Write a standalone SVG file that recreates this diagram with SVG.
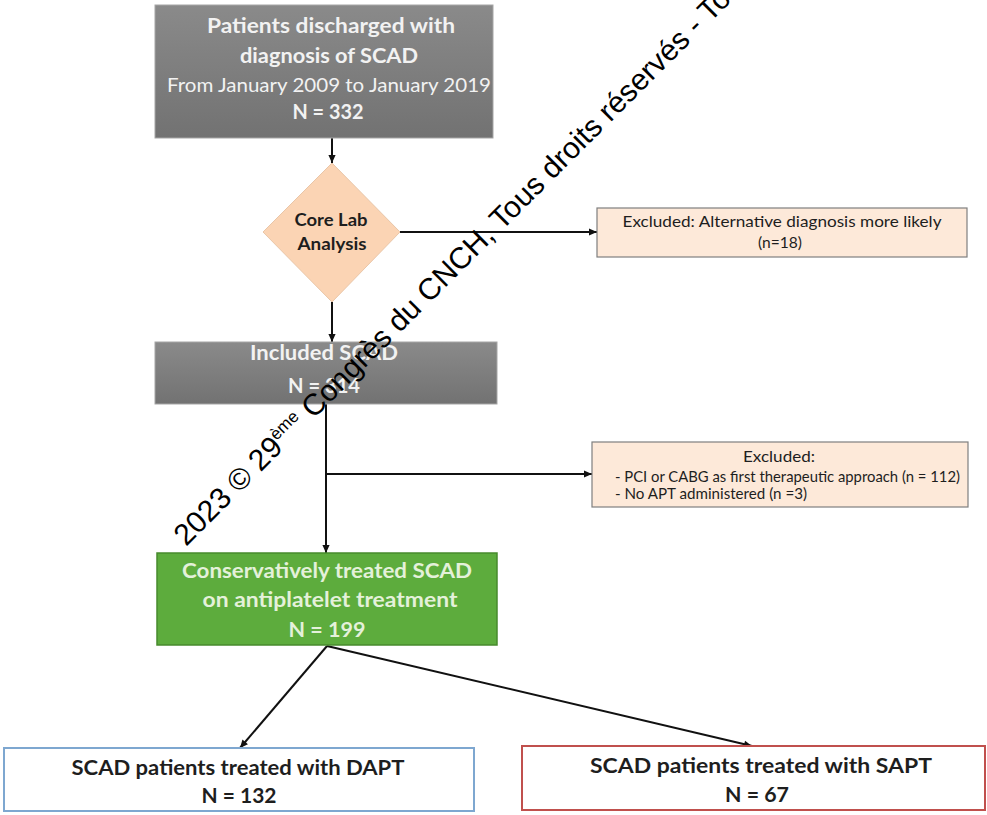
<svg xmlns="http://www.w3.org/2000/svg" width="987" height="815" viewBox="0 0 987 815">
<style>
.t{font-family:Lato,"Open Sans","Liberation Sans",sans-serif;text-anchor:middle}
.l{font-family:Lato,"Open Sans","Liberation Sans",sans-serif}
.b{font-weight:bold}
.w{fill:#f2f2f2}
.g{fill:#e4f1da}
.k{fill:#1e1e1e}
.gray{stroke:#a6a6a6;stroke-width:1}
.exc{fill:#fde9d9;stroke:#7f7f7f;stroke-width:1.2}
.con{fill:none;stroke:#111;stroke-width:2}
.wm{font-family:"Liberation Sans",Arial,sans-serif;font-size:30px;fill:#000}
</style>
<defs>
<linearGradient id="gg" x1="0" y1="0" x2="0" y2="1">
<stop offset="0" stop-color="#8a8a8a"/>
<stop offset="1" stop-color="#727272"/>
</linearGradient>
<marker id="ah" viewBox="0 0 10 10" refX="10" refY="5" markerWidth="9" markerHeight="8" markerUnits="userSpaceOnUse" orient="auto">
<path d="M0,0.5 L10,5 L0,9.5 z" fill="#111"/>
</marker>
</defs>
<rect width="987" height="815" fill="#ffffff"/>

<g id="connectors">
<path class="con" d="M332,138 L332,163" marker-end="url(#ah)"/>
<path class="con" d="M400,232 L597,232" marker-end="url(#ah)"/>
<path class="con" d="M332,302 L332,342" marker-end="url(#ah)"/>
<path class="con" d="M326,404 L326,553" marker-end="url(#ah)"/>
<path class="con" d="M326,474 L592,474" marker-end="url(#ah)"/>
<path class="con" d="M327,646 L240,748" stroke-width="1.6" marker-end="url(#ah)"/>
<path class="con" d="M327,646 L752,746" stroke-width="1.6" marker-end="url(#ah)"/>
</g>

<g id="node-discharged">
<rect class="gray" x="155" y="5" width="338" height="133" fill="url(#gg)"/>
<text class="t b w" x="331" y="33" font-size="21" textLength="248" lengthAdjust="spacingAndGlyphs">Patients discharged with</text>
<text class="t b w" x="329" y="63" font-size="21" textLength="178" lengthAdjust="spacingAndGlyphs">diagnosis of SCAD</text>
<text class="t w" x="329" y="92" font-size="20" textLength="324" lengthAdjust="spacingAndGlyphs">From January 2009 to January 2019</text>
<text class="t b w" x="328" y="119" font-size="21" textLength="71" lengthAdjust="spacingAndGlyphs">N = 332</text>
</g>

<g id="node-corelab">
<polygon points="332,163 400,232 332,302 263,232" fill="#fbd4b4" stroke="#e9c6a8" stroke-width="1"/>
<text class="t b k" x="331" y="226" font-size="16.5" textLength="73" lengthAdjust="spacingAndGlyphs">Core Lab</text>
<text class="t b k" x="332" y="250" font-size="16.5" textLength="69" lengthAdjust="spacingAndGlyphs">Analysis</text>
</g>

<g id="node-excluded1">
<rect class="exc" x="597" y="208" width="370" height="49"/>
<text class="t k" x="782" y="227" font-size="16" textLength="319" lengthAdjust="spacingAndGlyphs">Excluded: Alternative diagnosis more likely</text>
<text class="t k" x="780" y="248" font-size="16" textLength="44" lengthAdjust="spacingAndGlyphs">(n=18)</text>
</g>

<g id="node-included">
<rect class="gray" x="155" y="342" width="342" height="62" fill="url(#gg)"/>
<text class="t b w" x="324" y="360" font-size="21" textLength="148" lengthAdjust="spacingAndGlyphs">Included SCAD</text>
<text class="t b w" x="324" y="393" font-size="21" textLength="72" lengthAdjust="spacingAndGlyphs">N = 314</text>
</g>

<g id="node-excluded2">
<rect class="exc" x="592" y="442" width="376" height="65"/>
<text class="t k" x="779" y="462" font-size="16" textLength="72" lengthAdjust="spacingAndGlyphs">Excluded:</text>
<text class="l k" x="615" y="482" font-size="15" textLength="345" lengthAdjust="spacingAndGlyphs">- PCI or CABG as first therapeutic approach (n = 112)</text>
<text class="l k" x="615" y="499" font-size="15" textLength="192" lengthAdjust="spacingAndGlyphs">- No APT administered (n =3)</text>
</g>

<g id="node-conservative">
<rect x="157" y="553" width="340" height="92" fill="#5dac3d" stroke="#478a2c" stroke-width="1.5"/>
<text class="t b g" x="327" y="578" font-size="21" textLength="290" lengthAdjust="spacingAndGlyphs">Conservatively treated SCAD</text>
<text class="t b g" x="330" y="607" font-size="21" textLength="255" lengthAdjust="spacingAndGlyphs">on antiplatelet treatment</text>
<text class="t b g" x="327" y="637" font-size="21" textLength="77" lengthAdjust="spacingAndGlyphs">N = 199</text>
</g>

<g id="node-dapt">
<rect x="4" y="748" width="470" height="63" fill="#ffffff" stroke="#7ea7d0" stroke-width="2"/>
<text class="t b k" x="238" y="775" font-size="21" textLength="333" lengthAdjust="spacingAndGlyphs">SCAD patients treated with DAPT</text>
<text class="t b k" x="239" y="803" font-size="21" textLength="75" lengthAdjust="spacingAndGlyphs">N = 132</text>
</g>

<g id="node-sapt">
<rect x="522" y="746" width="463" height="64" fill="#ffffff" stroke="#c0504d" stroke-width="2"/>
<text class="t b k" x="761" y="773" font-size="21" textLength="342" lengthAdjust="spacingAndGlyphs">SCAD patients treated with SAPT</text>
<text class="t b k" x="757" y="802" font-size="21" textLength="64" lengthAdjust="spacingAndGlyphs">N = 67</text>
</g>

<g id="watermark">
<text class="wm" transform="translate(186,547) rotate(-45)">2023 © 29<tspan font-size="17" dy="-11">ème</tspan><tspan dy="11"> Congrès du CNCH, Tous droits réservés - Tou</tspan></text>
</g>
</svg>
